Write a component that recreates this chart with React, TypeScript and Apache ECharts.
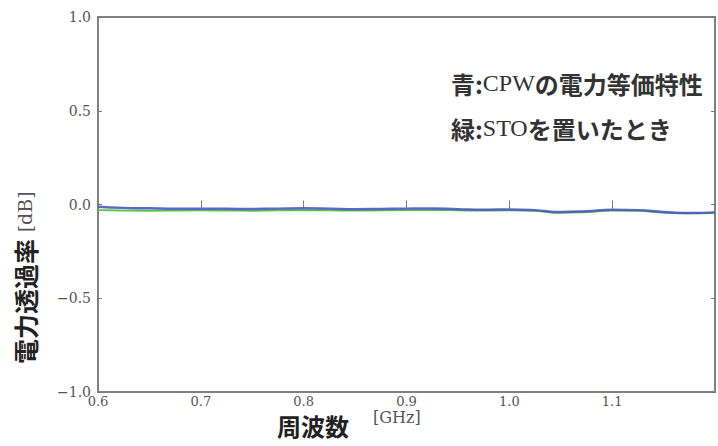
import React, { useEffect, useRef } from "react";
import * as echarts from "echarts";

const freq = [0.6, 0.625, 0.65, 0.675, 0.7, 0.725, 0.75, 0.775, 0.8, 0.825, 0.85, 0.875, 0.9, 0.925, 0.95, 0.975, 1.0, 1.025, 1.05, 1.075, 1.1, 1.125, 1.15, 1.175, 1.2];
const blue = [-0.012, -0.018, -0.02, -0.022, -0.022, -0.023, -0.024, -0.022, -0.02, -0.022, -0.025, -0.024, -0.022, -0.021, -0.025, -0.028, -0.026, -0.03, -0.04, -0.036, -0.028, -0.03, -0.04, -0.045, -0.042];
const green = [-0.03, -0.032, -0.033, -0.032, -0.031, -0.032, -0.033, -0.031, -0.03, -0.031, -0.032, -0.031, -0.03, -0.029, -0.031, -0.032, -0.031, -0.034, -0.044, -0.04, -0.032, -0.034, -0.043, -0.047, -0.045];
const yTicks = [-1.0, -0.5, 0.0, 0.5, 1.0];

const CJK = '"Noto Sans CJK JP", sans-serif';
const SERIF = '"DejaVu Serif", serif';
const TIMES = '"Liberation Serif", serif';

export default function App() {
  const ref = useRef<HTMLDivElement>(null);
  useEffect(() => {
    document.body.style.margin = "0";
    const chart = echarts.init(ref.current!, null, { renderer: "svg" });
    const fmt = (v: number) => (v < 0 ? "\u2212" + Math.abs(v).toFixed(1) : v.toFixed(1));
    const tickStyle = { show: true, inside: true, length: 4, lineStyle: { color: "#777", width: 1 } };
    const annRich = {
      c: { fontFamily: CJK, fontSize: 24, fontWeight: "bold", fill: "#333" },
      s: { fontFamily: TIMES, fontSize: 24, fill: "#333" },
    };
    chart.setOption({
      animation: false,
      grid: { left: 98, top: 17, right: 3, bottom: 54, show: true, borderColor: "#808080", borderWidth: 2, backgroundColor: "transparent" },
      xAxis: [
        {
          type: "value", min: 0.6, max: 1.2, interval: 0.1,
          axisLine: { show: false }, splitLine: { show: false }, axisTick: tickStyle,
          axisLabel: { formatter: (v: number) => v.toFixed(1), showMaxLabel: false, margin: 3, fontFamily: SERIF, fontSize: 13, color: "#555" },
        },
        {
          type: "value", position: "top", min: 0.6, max: 1.2, interval: 0.1,
          axisLine: { show: false }, splitLine: { show: false }, axisTick: tickStyle, axisLabel: { show: false },
        },
      ],
      yAxis: [
        {
          type: "value", min: yTicks[0], max: yTicks[yTicks.length - 1], interval: 0.5,
          axisLine: { show: false }, splitLine: { show: false }, axisTick: tickStyle,
          axisLabel: { formatter: fmt, margin: 7, fontFamily: SERIF, fontSize: 14, color: "#555" },
        },
        {
          type: "value", position: "right", min: yTicks[0], max: yTicks[yTicks.length - 1], interval: 0.5,
          axisLine: { show: false }, splitLine: { show: false }, axisTick: tickStyle, axisLabel: { show: false },
        },
      ],
      series: [
        {
          type: "line", data: freq.map((f, i) => [f, green[i]]), showSymbol: false, smooth: true,
          lineStyle: { color: "#55c455", width: 2 }, z: 2,
        },
        {
          type: "line", data: freq.map((f, i) => [f, blue[i]]), showSymbol: false, smooth: true,
          lineStyle: { color: "#4a5ac0", width: 2.5, opacity: 0.9 }, z: 3,
        },
      ],
      graphic: [
        {
          type: "text", left: 451, top: 71,
          style: { text: "{c|青:}{s|CPW}{c|の電力等価特性}", rich: annRich },
        },
        {
          type: "text", left: 451, top: 116,
          style: { text: "{c|緑:}{s|STO}{c|を置いたとき}", rich: annRich },
        },
        {
          type: "text", left: 277, top: 413,
          style: { text: "周波数", fontFamily: CJK, fontSize: 24, fontWeight: "bold", fill: "#222" },
        },
        {
          type: "text", left: 373, top: 409,
          style: { text: "[GHz]", fontFamily: SERIF, fontSize: 16, fill: "#555" },
        },
        {
          type: "text", x: 12, y: 364, rotation: Math.PI / 2, originX: 0, originY: 0,
          style: { text: "{c|電力透過率}  {s|[dB]}", rich: {
            c: { fontFamily: CJK, fontSize: 25, fontWeight: "bold", fill: "#222" },
            s: { fontFamily: SERIF, fontSize: 19, fill: "#555" },
          } },
        },
      ],
    });
    return () => chart.dispose();
  }, []);
  return <div ref={ref} style={{ width: 718, height: 446 }} />;
}
